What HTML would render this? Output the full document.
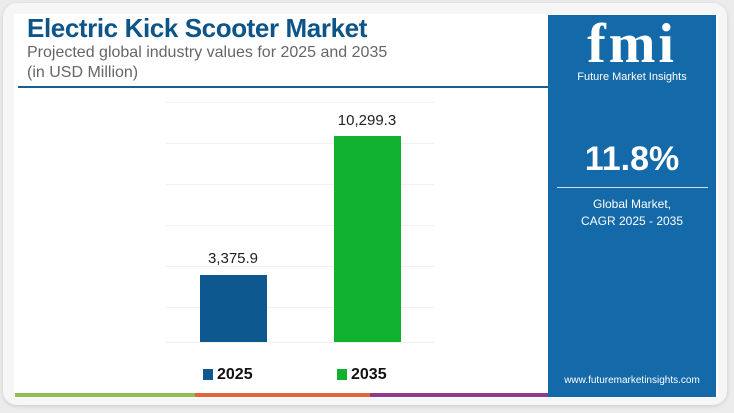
<!DOCTYPE html>
<html><head><style>
body{margin:0;width:734px;height:413px;background:#ececec;font-family:"Liberation Sans",sans-serif;overflow:hidden;position:relative}
.card{position:absolute;left:3px;top:3px;width:724px;height:402px;background:#f6f6f6;border-radius:14px;box-shadow:0 1px 4px rgba(0,0,0,.15)}
.inner{position:absolute;left:14px;top:14px;width:704px;height:384px;background:#fff}
.t{position:absolute;left:27px;top:13px;font-size:26px;font-weight:bold;color:#0d5489;letter-spacing:-0.4px}
.s{position:absolute;left:27px;font-size:16px;color:#666}
.g{position:absolute;left:165px;width:270px;height:1px;background:#f1f1f1}
.bar{position:absolute;width:67px}
.v{position:absolute;font-size:15px;color:#222;width:120px;text-align:center}
.blue{position:absolute;left:548px;top:15px;width:168px;height:382px;background:#1469a8}
.lg{position:absolute;top:366px;font-size:16px;font-weight:bold;color:#111}
.lg i{display:inline-block;width:10px;height:11px;margin-right:4px;vertical-align:-1px}
</style></head><body>
<div class="card"></div>
<div class="inner"></div>
<div class="t">Electric Kick Scooter Market</div>
<div class="s" style="top:44px">Projected global industry values for 2025 and 2035</div>
<div class="s" style="top:64px">(in USD Million)</div>
<div style="position:absolute;left:18px;top:86px;width:530px;height:2px;background:#1b5d8f"></div>
<div class="g" style="top:102px"></div>
<div class="g" style="top:143px"></div>
<div class="g" style="top:184px"></div>
<div class="g" style="top:225px"></div>
<div class="g" style="top:266px"></div>
<div class="g" style="top:307px"></div>
<div class="g" style="top:342px;background:#eee"></div>
<div class="bar" style="left:200px;top:275px;height:67px;background:#0e5890"></div>
<div class="bar" style="left:334px;top:136px;height:206px;background:#10b12f"></div>
<div class="v" style="left:173px;top:250px">3,375.9</div>
<div class="v" style="left:307px;top:112px">10,299.3</div>
<div class="lg" style="left:203px"><i style="background:#0e5890"></i>2025</div>
<div class="lg" style="left:337px"><i style="background:#10b12f"></i>2035</div>
<div style="position:absolute;left:15px;top:393px;width:180px;height:4px;background:#8cc152"></div>
<div style="position:absolute;left:195px;top:393px;width:175px;height:4px;background:#e4643a"></div>
<div style="position:absolute;left:370px;top:393px;width:178px;height:4px;background:#8e3a8f"></div>
<div class="blue"></div>
<div style="position:absolute;left:548px;top:16px;width:168px;text-align:center;color:#fff;font-family:'Liberation Serif',serif;font-weight:bold;font-size:56px;line-height:56px;letter-spacing:3px">fmi</div>
<div style="position:absolute;left:548px;top:71px;width:168px;text-align:center;color:#fff;font-size:11px">Future Market Insights</div>
<div style="position:absolute;left:548px;top:140px;width:168px;text-align:center;color:#fff;font-size:34px;font-weight:bold">11.8%</div>
<div style="position:absolute;left:557px;top:187px;width:151px;height:1px;background:#cfe0ee"></div>
<div style="position:absolute;left:548px;top:196px;width:168px;text-align:center;color:#fff;font-size:12px;line-height:17px">Global Market,<br>CAGR 2025 - 2035</div>
<div style="position:absolute;left:548px;top:375px;width:168px;text-align:center;color:#fff;font-size:10px">www.futuremarketinsights.com</div>
</body></html>
